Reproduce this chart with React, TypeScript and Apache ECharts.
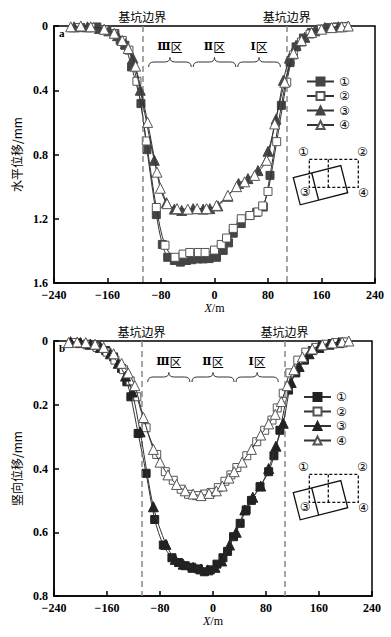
import React, { useEffect, useRef } from "react";
import * as echarts from "echarts";

// ---- shared ----
const xMin = -240;
const xMax = 240;
const xStep = 80;
const pitEdgeX = [-108, 108];
const zoneBounds = [-100, -33.3, 33.3, 100];
const zoneNumerals = ["Ⅲ", "Ⅱ", "Ⅰ"];
const zoneSuffix = "区";
const seriesLabels = ["①", "②", "③", "④"];

// ---- top chart: horizontal displacement (mm) ----
const hX1 = [-200, -176, -161, -149, -141, -134, -124, -110, -101, -87, -78, -70, -60, -51, -42, -34, -25, -17, -8, 3, 13, 21, 28, 40, 53, 63, 73, 83, 100, 113, 122, 133, 145, 158, 170, 183, 196];
const hY1 = [0.01, 0.006, 0.022, 0.047, 0.09, 0.12, 0.255, 0.483, 0.77, 1.174, 1.36, 1.44, 1.46, 1.47, 1.46, 1.455, 1.45, 1.45, 1.448, 1.44, 1.397, 1.35, 1.29, 1.23, 1.18, 1.16, 1.127, 0.93, 0.494, 0.228, 0.13, 0.075, 0.04, 0.02, 0.01, 0.006, 0.004];
const hX2 = [-205, -185, -165, -150, -138, -128, -116, -102, -87, -74, -59, -47, -37, -24, -14, 0, 10, 18, 28, 40, 53, 65, 72, 80, 93, 108, 118, 130, 143, 160, 178, 195];
const hY2 = [0.01, 0.01, 0.025, 0.05, 0.09, 0.15, 0.344, 0.716, 1.13, 1.365, 1.44, 1.42, 1.41, 1.41, 1.41, 1.395, 1.36, 1.32, 1.26, 1.2, 1.18, 1.158, 1.12, 1.03, 0.72, 0.35, 0.18, 0.1, 0.05, 0.02, 0.01, 0.005];
const hX3 = [-210, -190, -172, -158, -145, -133, -122, -111, -90, -72, -60, -49, -32, -17, -7, 5, 20, 36, 50, 65, 80, 92, 103, 112, 122, 135, 150, 165, 185];
const hY3 = [0.005, 0.005, 0.015, 0.03, 0.06, 0.11, 0.2, 0.4, 0.836, 1.1, 1.14, 1.148, 1.137, 1.14, 1.137, 1.12, 1.06, 0.98, 0.95, 0.9, 0.78, 0.58, 0.338, 0.2, 0.12, 0.07, 0.03, 0.01, 0.005];
const hX4 = [-215, -200, -185, -165, -150, -138, -129, -118, -100, -86, -81, -71, -56, -40, -26, -12, 3, 20, 33, 45, 60, 78, 90, 105, 118, 130, 145, 160, 175, 190, 200];
const hY4 = [0.005, 0.0, 0.005, 0.02, 0.045, 0.09, 0.14, 0.25, 0.6, 0.91, 1.01, 1.106, 1.137, 1.14, 1.137, 1.137, 1.117, 1.054, 1.0, 0.97, 0.93, 0.836, 0.61, 0.35, 0.17, 0.09, 0.04, 0.02, 0.01, 0.005, 0.0];

// ---- bottom chart: vertical displacement (mm) ----
const vX1 = [-205, -190, -175, -162, -150, -138, -130, -124, -113, -101, -88, -75, -62, -52, -42, -32, -22, -13, -4, 6, 15, 22, 31, 41, 50, 58, 71, 84, 92, 101, 114, 125, 138, 150, 165, 180, 195];
const vY1 = [0.005, 0.01, 0.018, 0.03, 0.05, 0.086, 0.128, 0.175, 0.29, 0.415, 0.56, 0.64, 0.68, 0.695, 0.705, 0.71, 0.715, 0.724, 0.718, 0.7, 0.68, 0.66, 0.614, 0.572, 0.53, 0.5, 0.457, 0.41, 0.36, 0.28, 0.154, 0.1, 0.06, 0.03, 0.015, 0.008, 0.004];
const vX2 = [-208, -190, -175, -160, -148, -135, -125, -115, -101, -85, -72, -60, -48, -37, -25, -13, -3, 8, 18, 27, 36, 51, 66, 78, 89, 97, 106, 116, 128, 140, 155, 170, 185, 198];
const vY2 = [0.005, 0.012, 0.02, 0.035, 0.06, 0.09, 0.125, 0.175, 0.272, 0.356, 0.41, 0.437, 0.465, 0.481, 0.485, 0.48, 0.475, 0.46, 0.44, 0.42, 0.397, 0.36, 0.316, 0.28, 0.248, 0.21, 0.164, 0.1, 0.06, 0.035, 0.02, 0.01, 0.005, 0.003];
const vX3 = [-215, -200, -185, -170, -155, -143, -132, -122, -110, -90, -71, -57, -45, -30, -18, -8, 3, 13, 25, 35, 48, 60, 72, 84, 95, 106, 118, 130, 145, 160, 175, 190];
const vY3 = [0.002, 0.005, 0.01, 0.02, 0.04, 0.07, 0.11, 0.16, 0.285, 0.52, 0.638, 0.685, 0.7, 0.71, 0.715, 0.718, 0.71, 0.69, 0.64, 0.6, 0.53, 0.49, 0.455, 0.4, 0.33, 0.258, 0.13, 0.08, 0.04, 0.02, 0.01, 0.005];
const vX4 = [-218, -205, -192, -178, -165, -150, -138, -128, -118, -105, -90, -80, -68, -55, -42, -30, -18, -6, 5, 14, 24, 32, 44, 58, 72, 84, 94, 103, 112, 122, 135, 150, 165, 180, 195, 205];
const vY4 = [0.005, 0.003, 0.005, 0.01, 0.02, 0.04, 0.07, 0.1, 0.14, 0.24, 0.34, 0.38, 0.42, 0.45, 0.47, 0.48, 0.485, 0.478, 0.47, 0.455, 0.43, 0.41, 0.38, 0.34, 0.295, 0.26, 0.23, 0.19, 0.14, 0.09, 0.05, 0.025, 0.012, 0.006, 0.003, 0.0];

const topYMax = 1.6;
const topYStep = 0.4;
const botYMax = 0.8;
const botYStep = 0.2;

const Brace = (echarts as any).graphic.extendShape({
  shape: { x: 0, y: 0, w: 0, h: 0, m: 0 },
  buildPath(ctx: any, s: any) {
    const { x, y, w, h, m } = s;
    const r = Math.min(6, w / 8);
    const mid = y + m;
    ctx.moveTo(x, y + h);
    ctx.quadraticCurveTo(x, mid, x + r, mid);
    ctx.lineTo(x + w / 2 - r, mid);
    ctx.quadraticCurveTo(x + w / 2, mid, x + w / 2, y);
    ctx.quadraticCurveTo(x + w / 2, mid, x + w / 2 + r, mid);
    ctx.lineTo(x + w - r, mid);
    ctx.quadraticCurveTo(x + w, mid, x + w, y + h);
  },
});
(echarts as any).graphic.registerShape("brace", Brace);

const SERIF = "'Liberation Serif', 'DejaVu Serif', serif";
const CJK = "'Noto Sans CJK SC', sans-serif";
const CIRCLED = "'DejaVu Sans', 'Noto Sans CJK SC', sans-serif";

const GRIDS = [
  { left: 54, top: 26, width: 321, height: 257 },
  { left: 54, top: 341, width: 318, height: 255 },
];

function mkSeries(prefix: string, idx: number, xs: number[], ys: number[], gi: number, dark: string) {
  const shapes = ["rect", "rect", "triangle", "triangle"];
  const filled = idx === 0 || idx === 2;
  return {
    type: "line",
    name: prefix + seriesLabels[idx],
    xAxisIndex: gi,
    yAxisIndex: gi,
    data: xs.map((x, i) => [x, ys[i]]),
    symbol: shapes[idx],
    symbolSize: shapes[idx] === "rect" ? 8 : 10,
    showAllSymbol: true,
    smooth: 0.3,
    lineStyle: { color: "#333", width: 1 },
    itemStyle: {
      color: filled ? dark : "#fff",
      borderColor: filled ? dark : "#555",
      borderWidth: 1,
    },
    z: 3 + idx,
    markLine:
      idx === 0
        ? {
            silent: true,
            symbol: "none",
            label: { show: false },
            lineStyle: { type: [6, 4], color: "#888", width: 1.5 },
            data: pitEdgeX.map((x) => ({ xAxis: x })),
          }
        : undefined,
  };
}

function axisX(gi: number) {
  return {
    type: "value",
    gridIndex: gi,
    min: xMin,
    max: xMax,
    interval: xStep,
    name: "{i|X}/m",
    nameLocation: "middle",
    nameGap: 18,
    nameTextStyle: {
      fontFamily: SERIF,
      fontSize: 12,
      color: "#000",
      rich: { i: { fontFamily: SERIF, fontStyle: "italic", fontSize: 12, color: "#000" } },
    },
    axisLine: { onZero: false, lineStyle: { color: "#000", width: 1.5 } },
    axisTick: { inside: true, length: 5, lineStyle: { color: "#000", width: 1.5 } },
    axisLabel: {
      margin: 6,
      fontFamily: SERIF,
      fontWeight: "bold",
      fontSize: 12,
      color: "#000",
      formatter: (v: number) => (v < 0 ? "\u2212" + -v : String(v)),
    },
    splitLine: { show: false },
  };
}

function axisY(gi: number, max: number, step: number, name: string) {
  return {
    type: "value",
    gridIndex: gi,
    min: 0,
    max,
    interval: step,
    inverse: true,
    name,
    nameLocation: "middle",
    nameGap: 27,
    nameRotate: 90,
    nameTextStyle: { fontFamily: CJK, fontSize: 12, color: "#000" },
    axisLine: { onZero: false, lineStyle: { color: "#000", width: 1.5 } },
    axisTick: { inside: true, length: 5, lineStyle: { color: "#000", width: 1.5 } },
    axisLabel: { margin: 6, fontFamily: SERIF, fontWeight: "bold", fontSize: 12, color: "#000" },
    splitLine: { show: false },
  };
}

function insetGraphics(ox: number, oy: number) {
  const w = 49;
  const h = 28;
  const dv = 19;
  const th = (14.3 * Math.PI) / 180;
  const u = [Math.cos(th), -Math.sin(th)];
  const v = [Math.sin(th), Math.cos(th)];
  const p0 = [ox - 16, oy + 18.3];
  const pt = (a: number, b: number) => [p0[0] + a * u[0] + b * v[0], p0[1] + a * u[1] + b * v[1]];
  const txt = (s: string, x: number, y: number) => ({
    type: "text",
    x: ox + x,
    y: oy + y,
    style: { text: s, fontSize: 12, fontFamily: CIRCLED, fill: "#000", align: "center", verticalAlign: "middle" },
  });
  return [
    {
      type: "rect",
      shape: { x: ox, y: oy, width: w, height: h },
      style: { fill: "none", stroke: "#111", lineWidth: 1.3, lineDash: [3, 2] },
    },
    {
      type: "line",
      shape: { x1: ox + dv, y1: oy, x2: ox + dv, y2: oy + h },
      style: { stroke: "#111", lineWidth: 1.3, lineDash: [3, 2] },
    },
    {
      type: "polygon",
      shape: { points: [pt(0, 0), pt(w, 0), pt(w, h), pt(0, h)] },
      style: { fill: "none", stroke: "#111", lineWidth: 1.3 },
    },
    {
      type: "line",
      shape: { x1: pt(dv, 0)[0], y1: pt(dv, 0)[1], x2: pt(dv, h)[0], y2: pt(dv, h)[1] },
      style: { stroke: "#111", lineWidth: 1.3 },
    },
    txt(seriesLabels[0], -6, -7.3),
    txt(seriesLabels[1], 53, -7.3),
    txt(seriesLabels[2], -4.3, 32.7),
    txt(seriesLabels[3], 54, 33.7),
  ];
}

export default function App() {
  const ref = useRef<HTMLDivElement>(null);
  useEffect(() => {
    document.body.style.margin = "0";
    const chart = echarts.init(ref.current!, null, { renderer: "svg" });
    const topNames = seriesLabels.map((s) => "t" + s);
    const botNames = seriesLabels.map((s) => "b" + s);
    const legendBase = {
      orient: "vertical",
      padding: 0,
      itemWidth: 27,
      itemHeight: 10,
      itemGap: 2.5,
      formatter: (n: string) => n.slice(1),
      textStyle: { fontSize: 12, lineHeight: 12, fontFamily: CIRCLED, color: "#000" },
    };
    const option: any = {
      animation: false,
      backgroundColor: "#fff",
      grid: GRIDS.map((g) => ({ ...g, show: true, borderColor: "#000", borderWidth: 1.5, containLabel: false })),
      xAxis: [axisX(0), axisX(1)],
      yAxis: [axisY(0, topYMax, topYStep, "水平位移/mm"), axisY(1, botYMax, botYStep, "竖向位移/mm")],
      legend: [
        { ...legendBase, left: 306, top: 75.5, data: topNames },
        { ...legendBase, left: 303, top: 391, data: botNames },
      ],
      series: [
        mkSeries("t", 0, hX1, hY1, 0, "#454545"),
        mkSeries("t", 1, hX2, hY2, 0, "#454545"),
        mkSeries("t", 2, hX3, hY3, 0, "#454545"),
        mkSeries("t", 3, hX4, hY4, 0, "#454545"),
        mkSeries("b", 0, vX1, vY1, 1, "#222"),
        mkSeries("b", 1, vX2, vY2, 1, "#222"),
        mkSeries("b", 2, vX3, vY3, 1, "#222"),
        mkSeries("b", 3, vX4, vY4, 1, "#222"),
      ],
    };
    chart.setOption(option);

    const graphics: any[] = [];
    GRIDS.forEach((g, gi) => {
      const px = (x: number) => (chart.convertToPixel({ gridIndex: gi } as any, [x, 0]) as number[])[0];
      // pit boundary labels
      pitEdgeX.forEach((x) => {
        graphics.push({
          type: "text",
          x: px(x),
          y: g.top - 9.5,
          style: { text: "基坑边界", fontSize: 12, fontFamily: CJK, fill: "#000", align: "center", verticalAlign: "middle" },
        });
      });
      // zone braces and labels
      for (let i = 0; i < zoneNumerals.length; i++) {
        const a = px(zoneBounds[i]);
        const b = px(zoneBounds[i + 1]);
        graphics.push({
          type: "brace",
          shape: { x: a + 1, y: g.top + 31.5, w: b - a - 2, h: 9.5, m: 4.5 },
          style: { fill: "none", stroke: "#333", lineWidth: 1 },
        });
        graphics.push({
          type: "text",
          x: (a + b) / 2,
          y: g.top + 20.5,
          style: {
            text: "{r|" + zoneNumerals[i] + "}{c|" + zoneSuffix + "}",
            align: "center",
            verticalAlign: "middle",
            rich: {
              r: { fontFamily: "'DejaVu Serif', serif", fontWeight: "bold", fontSize: 11, fill: "#000" },
              c: { fontFamily: CJK, fontSize: 12, fill: "#000" },
            },
          },
        });
      }
      // panel letter
      graphics.push({
        type: "text",
        x: g.left + 5,
        y: g.top + 7,
        style: { text: gi === 0 ? "a" : "b", fontSize: 11, fontWeight: "bold", fontFamily: SERIF, fill: "#000", align: "left", verticalAlign: "middle" },
      });
      graphics.push(...insetGraphics(g.left + 255.3, g.top + 133.4));
    });
    chart.setOption({ graphic: graphics });
    return () => chart.dispose();
  }, []);
  return <div ref={ref} style={{ width: 391, height: 637 }} />;
}
